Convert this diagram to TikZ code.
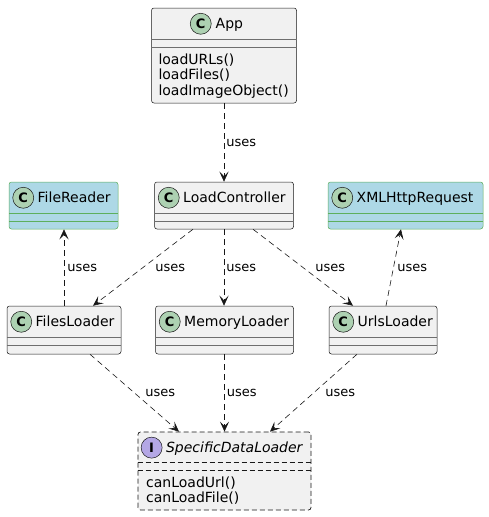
\documentclass[tikz,border=0pt]{standalone}
\usepackage{fontspec}
\setmainfont{DejaVu Sans}
\usetikzlibrary{positioning,calc,arrows.meta}

\definecolor{clsfill}{HTML}{F1F1F1}
\definecolor{clsline}{HTML}{181818}
\definecolor{sepline}{HTML}{6E6E6E}
\definecolor{extfill}{HTML}{ADD8E6}
\definecolor{extline}{HTML}{5DAF5D}
\definecolor{spotC}{HTML}{ADD1B2}
\definecolor{spotI}{HTML}{B4A7E5}

\tikzset{
  cls/.style={draw=clsline, fill=clsfill, line width=0.5pt, rounded corners=2.5pt, inner sep=0pt},
  ext/.style={draw=extline, fill=extfill},
  iface/.style={line width=0.7pt, dash pattern=on 5pt off 3pt},
  spot/.style={circle, draw=clsline, fill=spotC, line width=0.5pt, minimum size=21pt, inner sep=0pt,
    font=\bfseries\fontsize{13}{13}\selectfont},
  clsname/.style={inner sep=0pt, text height=10pt, text depth=1pt, font=\fontsize{14}{16}\selectfont},
  member/.style={anchor=base west, inner sep=0pt, font=\fontsize{14}{16}\selectfont},
  uses/.style={draw=clsline, line width=0.6pt, dash pattern=on 6pt off 4pt,
    -{Stealth[length=10pt, width=9pt, inset=4.5pt]}},
  lbl/.style={midway, anchor=west, inner sep=0pt, font=\fontsize{13}{15}\selectfont}
}

\begin{document}
\begin{tikzpicture}[x=1pt, y=-1pt]
\useasboundingbox (0,0) rectangle (489,517);

% class boxes
\node[cls, minimum width=145pt, minimum height=95pt] (app) at (224,55.5) {};
\node[cls, ext, minimum width=109pt, minimum height=47pt] (reader) at (63.5,205.5) {};
\node[cls, minimum width=139pt, minimum height=47pt] (ctrl) at (224,205.5) {};
\node[cls, ext, minimum width=155pt, minimum height=47pt] (xml) at (405.5,205.5) {};
\node[cls, minimum width=114pt, minimum height=48pt] (files) at (64,330) {};
\node[cls, minimum width=138pt, minimum height=48pt] (mem) at (224.5,330) {};
\node[cls, minimum width=108pt, minimum height=48pt] (urls) at (383,330) {};
\node[cls, iface, minimum width=173pt, minimum height=78pt] (sdl) at (224.5,471) {};

% compartments
\foreach \c/\col in {app/sepline, ctrl/sepline, mem/sepline, files/sepline, urls/sepline, reader/extline, xml/extline} {
  \draw[\col, line width=0.5pt] ([yshift=-31.5pt]\c.north west) -- ([yshift=-31.5pt]\c.north east);
  \draw[\col, line width=0.5pt] ([yshift=-39.5pt]\c.north west) -- ([yshift=-39.5pt]\c.north east);
}
\draw[clsline, iface] ([yshift=-31pt]sdl.north west) -- ([yshift=-31pt]sdl.north east);
\draw[clsline, iface] ([yshift=-39pt]sdl.north west) -- ([yshift=-39pt]sdl.north east);

% headers
\node[spot] (appspot) at ([xshift=49.5pt, yshift=-16pt]app.north west) {C};
\node[clsname, right=4pt of appspot] (appname) {App};
\node[spot] (readerspot) at ([xshift=14.5pt, yshift=-16pt]reader.north west) {C};
\node[clsname, right=3.5pt of readerspot] (readername) {FileReader};
\node[spot] (ctrlspot) at ([xshift=14.5pt, yshift=-16pt]ctrl.north west) {C};
\node[clsname, right=3.5pt of ctrlspot] (ctrlname) {LoadController};
\node[spot] (xmlspot) at ([xshift=14.5pt, yshift=-16pt]xml.north west) {C};
\node[clsname, right=3.5pt of xmlspot] (xmlname) {XMLHttpRequest};
\node[spot] (filesspot) at ([xshift=14.5pt, yshift=-16pt]files.north west) {C};
\node[clsname, right=3.5pt of filesspot] (filesname) {FilesLoader};
\node[spot] (memspot) at ([xshift=14.5pt, yshift=-16pt]mem.north west) {C};
\node[clsname, right=3.5pt of memspot] (memname) {MemoryLoader};
\node[spot] (urlsspot) at ([xshift=14.5pt, yshift=-16pt]urls.north west) {C};
\node[clsname, right=3.5pt of urlsspot] (urlsname) {UrlsLoader};
\node[spot, fill=spotI] (sdlspot) at ([xshift=14pt, yshift=-16pt]sdl.north west) {I};
\node[clsname, right=3.5pt of sdlspot] (sdlname) {\itshape SpecificDataLoader};

% members
\node[member] (appm1) at (158.3,64) {loadURLs()};
\node[member] (appm2) at (158.3,79.5) {loadFiles()};
\node[member] (appm3) at (158.3,95) {loadImageObject()};
\node[member] (sdlm1) at (146,487) {canLoadUrl()};
\node[member] (sdlm2) at (146,502) {canLoadFile()};

% dependencies
\draw[uses] (app.south) -- node[lbl, xshift=2pt] {uses} (ctrl.north);
\draw[uses] ($(ctrl.south)+(-31,0)$) -- node[lbl, xshift=12pt] {uses} ($(files.north)+(29,0)$);
\draw[uses] (ctrl.south) -- node[lbl, xshift=2pt] {uses} (ctrl.south |- mem.north);
\draw[uses] ($(ctrl.south)+(29,0)$) -- node[lbl, xshift=12pt] {uses} ($(urls.north)+(-30,0)$);
\draw[uses] (files.north) -- node[lbl, xshift=3pt] {uses} (files.north |- reader.south);
\draw[uses] ($(urls.north)+(3,0)$) -- node[lbl, xshift=3.5pt] {uses} ($(xml.south)+(-4.5,0)$);
\draw[uses] ($(files.south)+(26,0)$) -- node[lbl, xshift=10.5pt] {uses} ($(sdl.north)+(-45.5,0)$);
\draw[uses] (mem.south) -- node[lbl, xshift=2pt] {uses} (sdl.north);
\draw[uses] ($(urls.south)+(-26,0)$) -- node[lbl, xshift=11.5pt] {uses} ($(sdl.north)+(45.5,0)$);
\end{tikzpicture}
\end{document}
